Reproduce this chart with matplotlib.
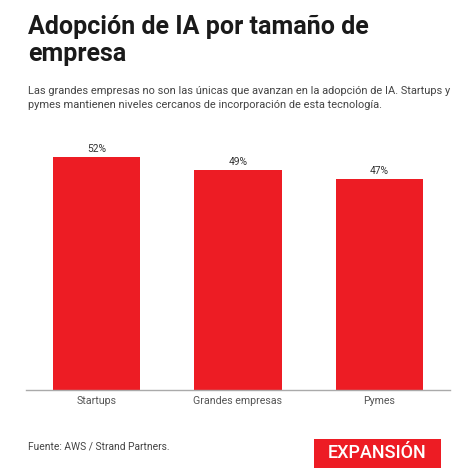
import matplotlib.pyplot as plt
from matplotlib.patches import Rectangle

plt.rcParams['font.family'] = ['Roboto', 'DejaVu Sans']

categories = ['Startups', 'Grandes empresas', 'Pymes']
values = [52, 49, 47]
value_labels = ['52%', '49%', '47%']

title_lines = ['Adopción de IA por tamaño de', 'empresa']
subtitle_lines = ['Las grandes empresas no son las únicas que avanzan en la adopción de IA. Startups y',
                  'pymes mantienen niveles cercanos de incorporación de esta tecnología.']
source = 'Fuente: AWS / Strand Partners.'

W, H = 457, 476
fig = plt.figure(figsize=(W / 100, H / 100), dpi=100)
fig.patch.set_facecolor('white')

# plot area: x 26..450, baseline at y=390, top at y=145
ax = fig.add_axes([26 / W, (H - 390) / H, 424 / W, 245 / H])
x = list(range(len(categories)))
ax.bar(x, values, width=0.616, color='#ED1C24')
ax.set_xlim(-0.5, 2.5)
ax.set_ylim(0, 245 / 4.487)
for xi, v, lab in zip(x, values, value_labels):
    ax.text(xi, v + 0.6, lab, ha='center', va='bottom', fontsize=7.4, color='#333333')

ax.set_xticks(x)
ax.set_xticklabels(categories, fontsize=7.7, color='#555555')
ax.tick_params(axis='x', length=0, pad=4)
ax.set_yticks([])
for s in ['top', 'right', 'left']:
    ax.spines[s].set_visible(False)
ax.spines['bottom'].set_color('#aaaaaa')
ax.spines['bottom'].set_linewidth(1)

for i, line in enumerate(title_lines):
    fig.text(28 / W, 1 - (34 + 27 * i) / H, line, ha='left', va='baseline', fontsize=18,
             fontweight='bold', color='#1a1a1a')
for i, line in enumerate(subtitle_lines):
    fig.text(28 / W, 1 - (94 + 13.5 * i) / H, line, ha='left', va='baseline', fontsize=7.9,
             color='#444444')
fig.text(28 / W, 1 - 447 / H, source, ha='left', va='center', fontsize=7.4, color='#444444')

# logo
fig.patches.append(Rectangle((314 / W, 1 - 468 / H), 127 / W, 29 / H,
                             transform=fig.transFigure, facecolor='#ED1C24', edgecolor='none'))
fig.text(377 / W, 1 - 453.5 / H, 'EXPANSIÓN', ha='center', va='center', fontsize=13,
         fontweight='medium', color='white')

fig.savefig('out.png', dpi=100, facecolor='white')
